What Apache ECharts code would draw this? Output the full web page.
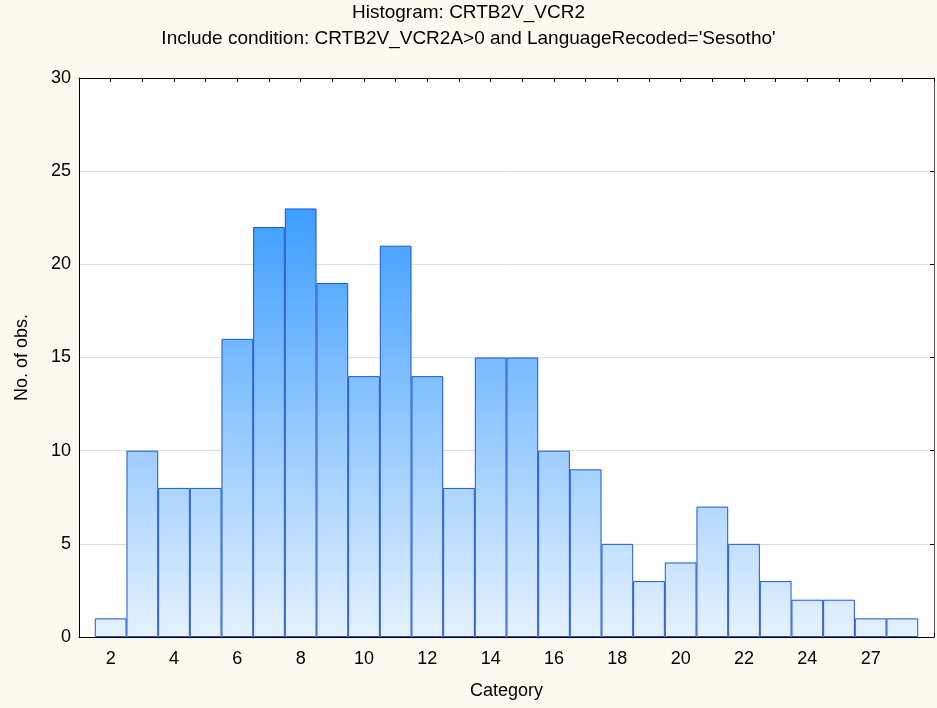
<!DOCTYPE html>
<html>
<head>
<meta charset="utf-8">
<title>Histogram: CRTB2V_VCR2</title>
<script src="https://cdn.jsdelivr.net/npm/echarts@6/dist/echarts.min.js"></script>
<style>
  html, body { margin: 0; padding: 0; background: #fef9ee; }
  #chart { width: 937px; height: 708px; }
</style>
</head>
<body>
<div id="chart"></div>
<script>
// categories of the histogram (26 is missing in the data)
const categories = ['2','3','4','5','6','7','8','9','10','11','12','13','14','15','16','17','18','19','20','21','22','23','24','25','27','28']
// no. of obs. per category
const counts = [1, 10, 8, 8, 16, 22, 23, 19, 14, 21, 14, 8, 15, 15, 10, 9, 5, 3, 4, 7, 5, 3, 2, 2, 1, 1]
const yTicks = [0, 5, 10, 15, 20, 25, 30]

const font = 'Liberation Sans, Arial, sans-serif'
const fs = 19
const chart = echarts.init(document.getElementById('chart'))

// plot box
const G = { left: 79, right: 1, top: 78, bottom: 71 }
const plotW = 937 - G.left - G.right
const plotTop = G.top, plotBottom = 708 - G.bottom

// gradient runs over the whole plot height, not per bar
const barFill = new echarts.graphic.LinearGradient(0, plotTop, 0, plotBottom, [
  { offset: 0, color: '#0a84ff' },
  { offset: 1, color: '#e6f2fe' }
], true)

const xBase = {
  type: 'value', min: -1, max: categories.length, interval: 1,
  splitLine: { show: false },
  axisLine: { show: true, onZero: false, lineStyle: { color: '#000', width: 1 } },
  axisTick: { show: true, inside: true, length: 4, lineStyle: { color: '#000' } }
}

chart.setOption({
  backgroundColor: '#fef9ee',
  animation: false,
  textStyle: { fontFamily: font },
  title: [
    { text: 'Histogram: CRTB2V_VCR2', left: 'center', top: 3, padding: 0,
      textStyle: { fontSize: fs, fontWeight: 'normal', color: '#000', fontFamily: font } },
    { text: "Include condition: CRTB2V_VCR2A>0 and LanguageRecoded='Sesotho'", left: 'center', top: 29, padding: 0,
      textStyle: { fontSize: fs, fontWeight: 'normal', color: '#000', fontFamily: font } }
  ],
  grid: { left: G.left, right: G.right, top: G.top, bottom: G.bottom, show: true, backgroundColor: '#fff', borderWidth: 0 },
  xAxis: [
    Object.assign({}, xBase, {
      position: 'bottom',
      name: 'Category', nameLocation: 'middle', nameGap: 45,
      nameTextStyle: { fontSize: 18, color: '#000', fontFamily: font },
      axisLabel: {
        fontSize: 18, color: '#000', margin: 13, fontFamily: font,
        formatter: v => (v >= 0 && v < categories.length && v % 2 === 0) ? categories[v] : ''
      }
    }),
    Object.assign({}, xBase, { position: 'top', axisLabel: { show: false } })
  ],
  yAxis: [
    {
      type: 'value', min: yTicks[0], max: yTicks[yTicks.length - 1], interval: 5,
      name: 'No. of obs.', nameLocation: 'middle', nameGap: 48,
      nameTextStyle: { fontSize: 18, color: '#000', fontFamily: font },
      axisLine: { show: true, onZero: false, lineStyle: { color: '#000' } },
      axisTick: { show: false },
      axisLabel: { fontSize: 18, color: '#000', margin: 8, fontFamily: font },
      splitLine: { show: true, lineStyle: { color: '#dedede', width: 1 } }
    },
    {
      type: 'value', position: 'right', min: yTicks[0], max: yTicks[yTicks.length - 1], interval: 5,
      axisLine: { show: true, onZero: false, lineStyle: { color: '#555' } },
      axisTick: { show: true, inside: true, length: 4, lineStyle: { color: '#000' } },
      axisLabel: { show: false },
      splitLine: { show: false }
    }
  ],
  series: [{
    type: 'bar',
    xAxisIndex: 0, yAxisIndex: 0,
    barWidth: plotW / (categories.length + 1),
    data: counts.map((c, i) => [i, c]),
    itemStyle: { color: barFill, borderColor: '#1d55d4', borderWidth: 1 }
  }]
})
</script>
</body>
</html>
